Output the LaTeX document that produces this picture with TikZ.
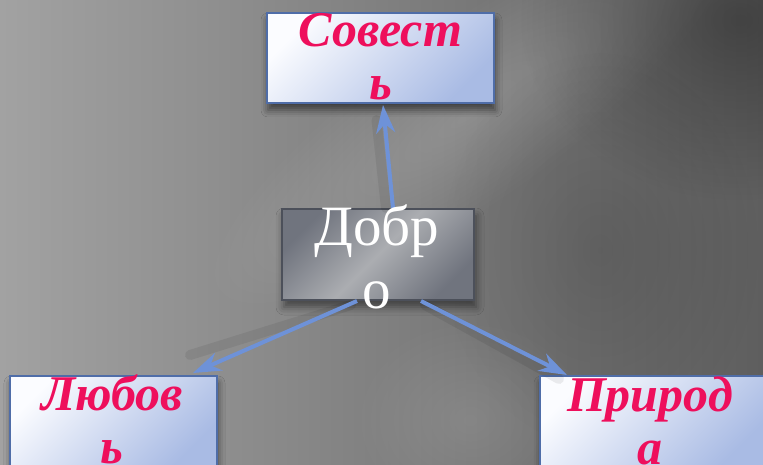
\documentclass[tikz,border=0pt]{standalone}
\usepackage{fontspec}
\setmainfont{Liberation Serif}
\usetikzlibrary{arrows.meta,shadows.blur,fadings}
\definecolor{pinktxt}{HTML}{EE0F5C}
\definecolor{boxedge}{HTML}{4F6DA8}
\definecolor{boxlight}{HTML}{FBFCFF}
\definecolor{boxblue}{HTML}{A9BBE4}
\definecolor{arrowblue}{HTML}{6E92D8}
\definecolor{darkedge}{HTML}{4C505A}
\definecolor{darkA}{HTML}{70747E}
\definecolor{darkB}{HTML}{ABADB1}
\definecolor{bgA}{HTML}{A2A2A2}
\definecolor{bgB}{HTML}{888888}
\definecolor{bgC}{HTML}{5E5E5E}
\tikzfading[name=softspot, inner color=transparent!0, outer color=transparent!100]
\begin{document}
\begin{tikzpicture}[x=1pt,y=-1pt,
  lightbox/.style={draw=boxedge, line width=2pt, top color=boxlight, bottom color=boxblue,
    shading angle=45, blur shadow={shadow xshift=1pt, shadow yshift=-7pt, shadow blur radius=7pt, shadow opacity=55},
    minimum width=227pt, minimum height=90pt, inner sep=0pt},
  darkbox/.style={draw=darkedge, line width=2pt, top color=darkA, bottom color=darkA, middle color=darkB,
    shading angle=45, blur shadow={shadow xshift=2pt, shadow yshift=-7pt, shadow blur radius=8pt, shadow opacity=50},
    minimum width=192pt, minimum height=91pt, inner sep=0pt},
  pinktext/.style={text=pinktxt, font=\fontsize{50}{53}\selectfont\bfseries\itshape, anchor=base, inner sep=0pt},
  whitetext/.style={text=white, font=\fontsize{57}{63}\selectfont, anchor=base, inner sep=0pt},
  link/.style={draw=arrowblue, line width=4pt, -{Stealth[length=28pt,width=19pt,inset=9pt]}},
  linkshadow/.style={draw=black, line width=10pt, opacity=0.07, line cap=round},
]
\useasboundingbox (0,0) rectangle (763,465);
\clip (0,0) rectangle (763,465);
% background
\fill[left color=bgA, middle color=bgB, right color=bgC] (0,0) rectangle (763,465);
\begin{scope}[transform canvas={rotate around={35:(200pt,265pt)}}]
  \fill[white, opacity=0.16, path fading=softspot] (200,200) ellipse [x radius=320pt, y radius=90pt];
\end{scope}
\fill[black, opacity=0.30, path fading=softspot] (740,20) ellipse [x radius=220pt, y radius=180pt];
\fill[black, opacity=0.12, path fading=softspot] (600,250) ellipse [x radius=160pt, y radius=200pt];
\fill[white, opacity=0.10, path fading=softspot] (470,420) ellipse [x radius=120pt, y radius=100pt];

% boxes
\node[lightbox] (sov) at (380.5,58) {};
\node[darkbox] (dob) at (378,254.5) {};
\node[lightbox, minimum width=207pt] (lub) at (113.5,421) {};
\node[lightbox] (pri) at (653.5,421) {};

% arrow shadows
\draw[linkshadow] ([xshift=8pt]dob.north) -- ([xshift=-4pt,yshift=-16pt]sov.south);
\draw[linkshadow] ([xshift=70pt,yshift=-4pt]dob.south west) -- ([xshift=-28pt,yshift=20pt]lub.north east);
\draw[linkshadow] ([xshift=-50pt,yshift=-4pt]dob.south east) -- ([xshift=20pt,yshift=-4pt]pri.north west);

% connectors
\draw[link] ([xshift=15pt]dob.north) -- ([xshift=2.5pt,yshift=-1pt]sov.south);
\draw[link] ([xshift=76pt]dob.south west) -- ([xshift=-25pt,yshift=2pt]lub.north east);
\draw[link] ([xshift=-54pt]dob.south east) -- ([xshift=28pt]pri.north west);

% texts
\node[pinktext] (sovt) at (380.5,47) {\begin{tabular}[t]{@{}c@{}}Совест\\ь\end{tabular}};
\node[pinktext] (lubt) at (112,410) {\begin{tabular}[t]{@{}c@{}}Любов\\ь\end{tabular}};
\node[pinktext] (prit) at (650,411) {\begin{tabular}[t]{@{}c@{}}Природ\\а\end{tabular}};
\node[whitetext] (dobt) at (377,245) {\begin{tabular}[t]{@{}c@{}}Добр\\о\end{tabular}};
\end{tikzpicture}
\end{document}
